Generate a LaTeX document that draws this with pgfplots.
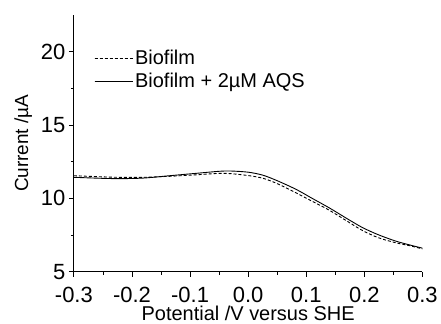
\documentclass[border=0pt]{standalone}
\usepackage{pgfplots}
\pgfplotsset{compat=1.18}
\usepackage{fontspec}
\setmainfont{Liberation Sans}
\begin{document}
\begin{tikzpicture}
\path (0pt,0pt) rectangle (441pt,324pt);
\begin{axis}[
  at={(74pt,52pt)}, anchor=south west,
  scale only axis, width=349pt, height=257pt,
  xmin=-0.3, xmax=0.3, ymin=5, ymax=22.5,
  axis x line*=bottom, axis y line*=left,
  axis line style={black, line width=0.8pt},
  xtick={-0.3,-0.2,...,0.31}, ytick={5,10,15,20},
  minor xtick={-0.25,-0.15,-0.05,0.05,0.15,0.25},
  minor ytick={7.5,12.5,17.5},
  tick align=outside, major tick length=5pt, minor tick length=3pt,
  tick style={black, line width=0.8pt},
  /pgf/number format/assume math mode=true,
  ticklabel style={font=\fontsize{22}{22}\selectfont},
  xticklabel style={yshift=-7pt, /pgf/number format/.cd, fixed, fixed zerofill, precision=1},
  xlabel={Potential /V versus SHE}, ylabel={Current /\textmu A},
  xlabel style={font=\fontsize{20}{20}\selectfont, yshift=4pt},
  ylabel style={font=\fontsize{19}{19}\selectfont, yshift=2pt},
  legend style={draw=none, fill=none, at={(0.055,0.875)}, anchor=north west,
    font=\fontsize{20}{22}\selectfont, row sep=3pt, inner sep=1pt},
  legend cell align=left,
  legend image code/.code={\draw[#1] (0pt,0pt) -- (30pt,0pt); \path (0pt,0pt) -- (38pt,0pt);},
]
\addplot[black, densely dashed, line width=0.9pt, smooth] coordinates {
(-0.3,11.54) (-0.25,11.46) (-0.22,11.43) (-0.18,11.43) (-0.135,11.5) (-0.09,11.6) (-0.05,11.7) (-0.03,11.68) (0.0,11.55) (0.025,11.37) (0.05,11.0) (0.083,10.36) (0.11,9.8) (0.14,9.18) (0.17,8.45) (0.197,7.8) (0.225,7.3) (0.255,6.96) (0.28,6.75) (0.3,6.55)};
\addlegendentry{Biofilm}
\addplot[black, line width=0.9pt, smooth] coordinates {
(-0.3,11.43) (-0.25,11.36) (-0.22,11.34) (-0.18,11.38) (-0.135,11.54) (-0.09,11.7) (-0.05,11.84) (-0.03,11.86) (0.0,11.78) (0.025,11.58) (0.05,11.2) (0.083,10.6) (0.11,10.0) (0.14,9.34) (0.17,8.62) (0.197,8.0) (0.225,7.5) (0.255,7.07) (0.28,6.8) (0.3,6.6)};
\addlegendentry{Biofilm + 2\textmu M AQS}
\end{axis}
\end{tikzpicture}
\end{document}
